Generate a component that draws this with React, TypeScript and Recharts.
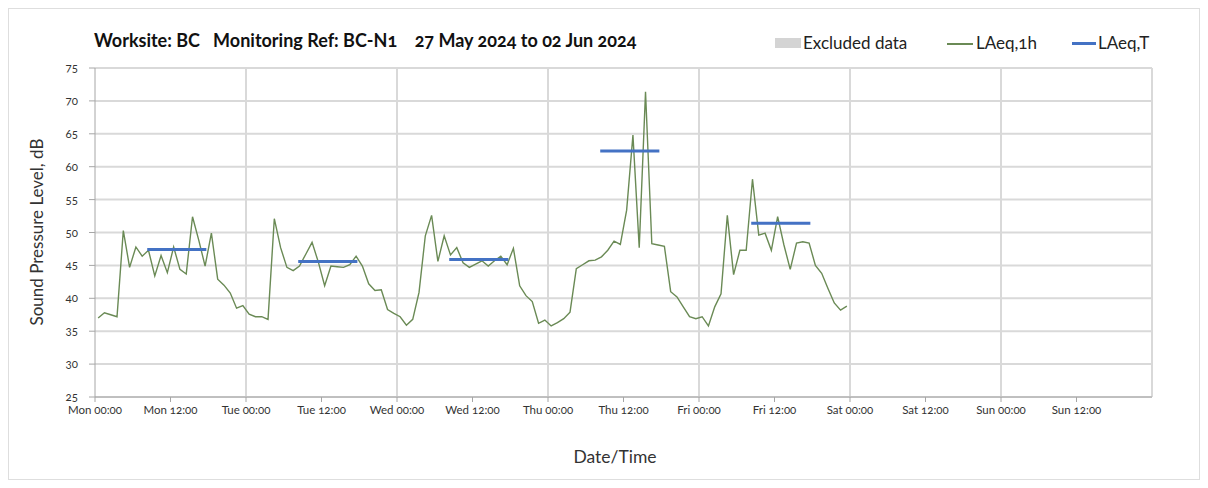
import React from 'react';
import {
  LineChart,
  Line,
  XAxis,
  YAxis,
  CartesianGrid,
  ReferenceArea,
} from 'recharts';

// hourly LAeq,1h values (dB), plotted at the middle of each hour
const monLeq = [37.0, 37.8, 37.5, 37.2, 50.3, 44.7, 47.8, 46.4, 47.3, 43.4, 46.5, 43.9, 47.8, 44.4, 43.7, 52.4, 48.8, 44.9, 49.9, 42.9, 42.0, 40.8, 38.5, 38.9];
const tueLeq = [37.6, 37.2, 37.2, 36.8, 52.1, 47.7, 44.7, 44.2, 44.9, 46.7, 48.5, 45.5, 41.9, 44.9, 44.8, 44.7, 45.1, 46.4, 44.9, 42.2, 41.2, 41.3, 38.3, 37.7];
const wedLeq = [37.2, 35.9, 36.8, 40.9, 49.5, 52.6, 45.6, 49.5, 46.6, 47.7, 45.4, 44.7, 45.2, 45.7, 44.9, 45.7, 46.4, 45.1, 47.6, 41.9, 40.4, 39.5, 36.2, 36.7];
const thuLeq = [35.8, 36.3, 36.9, 37.9, 44.5, 45.1, 45.7, 45.8, 46.3, 47.3, 48.7, 48.2, 53.4, 64.8, 47.7, 71.4, 48.3, 48.1, 47.9, 41.0, 40.2, 38.7, 37.2, 36.9];
const friLeq = [37.2, 35.8, 38.7, 40.7, 52.6, 43.6, 47.3, 47.3, 58.1, 49.6, 49.9, 47.3, 52.4, 48.1, 44.4, 48.4, 48.6, 48.4, 45.0, 43.8, 41.5, 39.3, 38.2, 38.8];
const hourlyByDay = [monLeq, tueLeq, wedLeq, thuLeq, friLeq];

// LAeq,T over the daytime period, one per day
const periodLeq = [47.4, 45.6, 45.9, 62.4, 51.4];
const PERIOD_START = 8.3;
const PERIOD_END = 17.7;

// no excluded periods in this week
const excludedPeriods: { from: number; to: number }[] = [];

const tickHours = [0, 12, 24, 36, 48, 60, 72, 84, 96, 108, 120, 132, 144, 156];
const tickLabels = [
  'Mon 00:00', 'Mon 12:00', 'Tue 00:00', 'Tue 12:00', 'Wed 00:00', 'Wed 12:00', 'Thu 00:00',
  'Thu 12:00', 'Fri 00:00', 'Fri 12:00', 'Sat 00:00', 'Sat 12:00', 'Sun 00:00', 'Sun 12:00',
];
const dayLines = [24, 48, 72, 96, 120, 144, 168];
const yTicks = [25, 30, 35, 40, 45, 50, 55, 60, 65, 70, 75];

const GREEN = '#6a8a55';
const BLUE = '#4472c4';
const FONT = 'Lato, "Open Sans", sans-serif';

const hourlyData = hourlyByDay.flatMap((day, d) =>
  day.map((v, h) => ({ t: d * 24 + h + 0.5, leq: v }))
);

const periodData = periodLeq.flatMap((v, d) => [
  { t: d * 24 + PERIOD_START, leqT: v },
  { t: d * 24 + PERIOD_END, leqT: v },
  { t: d * 24 + 20, leqT: null },
]);

const legendText: React.CSSProperties = {
  position: 'absolute',
  top: 24,
  fontSize: 17,
  lineHeight: '20px',
  color: '#222',
  whiteSpace: 'nowrap',
};

const App: React.FC = () => {
  const tickFmt = (v: number) => tickLabels[tickHours.indexOf(v)] ?? '';

  return (
    <div
      style={{
        position: 'relative',
        width: 1192,
        height: 472,
        border: '1px solid #dedede',
        boxSizing: 'border-box',
        background: '#fff',
        fontFamily: FONT,
        fontVariantNumeric: 'oldstyle-nums',
      }}
    >
      {/* title */}
      <div
        style={{
          position: 'absolute',
          left: 85,
          top: 20,
          fontSize: 18,
          fontWeight: 700,
          color: '#111',
          whiteSpace: 'pre',
          lineHeight: '22px',
        }}
      >
        {'Worksite: BC   Monitoring Ref: BC-N1    27 May 2024 to 02 Jun 2024'}
      </div>

      {/* legend */}
      <div style={{ position: 'absolute', left: 766, top: 29, width: 26, height: 10, background: '#d4d4d4' }} />
      <div style={{ ...legendText, left: 794 }}>Excluded data</div>
      <div style={{ position: 'absolute', left: 938, top: 34, width: 26, height: 1.5, background: GREEN }} />
      <div style={{ ...legendText, left: 967 }}>LAeq,1h</div>
      <div style={{ position: 'absolute', left: 1063, top: 33, width: 24, height: 3, background: BLUE }} />
      <div style={{ ...legendText, left: 1089 }}>LAeq,T</div>

      {/* axis titles */}
      <div
        style={{
          position: 'absolute',
          left: 27,
          top: 223,
          transform: 'translate(-50%, -50%) rotate(-90deg)',
          fontSize: 17,
          color: '#333',
          whiteSpace: 'nowrap',
        }}
      >
        Sound Pressure Level, dB
      </div>
      <div
        style={{
          position: 'absolute',
          left: 606,
          top: 447,
          transform: 'translate(-50%, -50%)',
          fontSize: 17.5,
          color: '#333',
          whiteSpace: 'nowrap',
        }}
      >
        Date/Time
      </div>

      <div style={{ position: 'absolute', left: 0, top: 0 }}>
        <LineChart width={1190} height={470} margin={{ top: 59, right: 47, left: 26, bottom: 52 }}>
          <CartesianGrid
            stroke="#d9d9d9"
            strokeWidth={2}
            verticalValues={dayLines}
          />
          <XAxis
            type="number"
            dataKey="t"
            domain={[0, 168]}
            ticks={tickHours}
            tickFormatter={tickFmt}
            interval={0}
            height={30}
            tickSize={5}
            tickMargin={4}
            stroke="#a6a6a6"
            tick={{ fill: '#333', fontSize: 11.5, fontFamily: FONT }}
            allowDuplicatedCategory={false}
          />
          <YAxis
            type="number"
            domain={[25, 75]}
            ticks={yTicks}
            width={60}
            tickSize={6}
            tickMargin={11}
            stroke="#a6a6a6"
            tick={{ fill: '#333', fontSize: 11.5, fontFamily: FONT }}
            allowDataOverflow
          />
          {excludedPeriods.map((p, i) => (
            <ReferenceArea key={i} x1={p.from} x2={p.to} fill="#d4d4d4" fillOpacity={1} />
          ))}
          <Line
            data={hourlyData}
            dataKey="leq"
            name="LAeq,1h"
            type="linear"
            stroke={GREEN}
            strokeWidth={1.4}
            dot={false}
            isAnimationActive={false}
          />
          <Line
            data={periodData}
            dataKey="leqT"
            name="LAeq,T"
            type="linear"
            stroke={BLUE}
            strokeWidth={3}
            dot={false}
            connectNulls={false}
            isAnimationActive={false}
          />
        </LineChart>
      </div>
    </div>
  );
};

export default App;
